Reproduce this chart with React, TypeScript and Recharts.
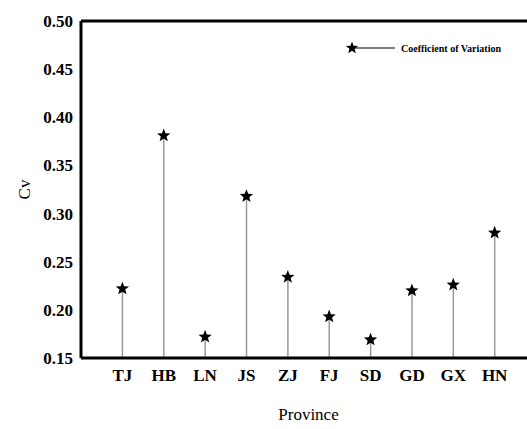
import {
  Bar,
  ComposedChart,
  Label,
  ReferenceLine,
  Scatter,
  XAxis,
  YAxis,
} from "recharts";

const provinces = ["TJ", "HB", "LN", "JS", "ZJ", "FJ", "SD", "GD", "GX", "HN"];
const cvValues = [0.222, 0.381, 0.172, 0.318, 0.234, 0.193, 0.169, 0.22, 0.226, 0.28];
const yTicks = [0.15, 0.2, 0.25, 0.3, 0.35, 0.4, 0.45, 0.5];

const chartData = provinces.map((name, i) => ({ idx: i + 1, name, cv: cvValues[i] }));

const serif = "'Liberation Serif', 'DejaVu Serif', serif";

function starPoints(cx: number, cy: number, outer: number, inner: number) {
  const pts: string[] = [];
  for (let k = 0; k < 10; k++) {
    const r = k % 2 === 0 ? outer : inner;
    const a = -Math.PI / 2 + (k * Math.PI) / 5;
    pts.push(`${cx + r * Math.cos(a)},${cy + r * Math.sin(a)}`);
  }
  return pts.join(" ");
}

const StarShape = (props: any) => {
  const { cx, cy } = props;
  if (cx == null || cy == null) return null;
  return <polygon points={starPoints(cx, cy, 7, 3)} fill="#000" />;
};

// legend drawn on top, no space reserved
const LegendBox = () => (
  <svg width={180} height={20} style={{ position: "absolute", top: 38, left: 345 }}>
    <line x1={7} y1={10} x2={50} y2={10} stroke="#000" strokeWidth={1} />
    <polygon points={starPoints(7, 10, 6.5, 2.7)} fill="#000" />
    <text x={56} y={13.5} fontFamily={serif} fontWeight="bold" fontSize={10} fill="#000">
      Coefficient of Variation
    </text>
  </svg>
);

export default function App() {
  return (
    <div
      style={{
        position: "fixed",
        top: 0,
        left: 0,
        width: 527,
        height: 429,
        overflow: "hidden",
        background: "#fff",
      }}
    >
      <ComposedChart
        width={536}
        height={429}
        data={chartData}
        margin={{ top: 21, right: 0, bottom: 0, left: 0 }}
      >
        <XAxis
          dataKey="idx"
          type="number"
          domain={[0, 11]}
          ticks={[1, 2, 3, 4, 5, 6, 7, 8, 9, 10]}
          tickFormatter={(v: number) => provinces[v - 1] ?? ""}
          tickLine={false}
          tickMargin={5}
          axisLine={{ stroke: "#000", strokeWidth: 3 }}
          tick={{ fill: "#000", fontFamily: serif, fontWeight: "bold", fontSize: 17 }}
          height={71}
          interval={0}
        >
          <Label
            value="Province"
            position="insideBottom"
            offset={9}
            style={{ fill: "#000", fontFamily: serif, fontSize: 17 }}
          />
        </XAxis>
        <YAxis
          type="number"
          domain={[0.15, 0.5]}
          ticks={yTicks}
          allowDataOverflow
          tickFormatter={(v: number) => v.toFixed(2)}
          tickLine={false}
          axisLine={{ stroke: "#000", strokeWidth: 3 }}
          tick={{ fill: "#000", fontFamily: serif, fontWeight: "bold", fontSize: 17 }}
          width={81}
        >
          <Label
            value="Cv"
            angle={-90}
            position="insideLeft"
            offset={24}
            style={{ fill: "#000", fontFamily: serif, fontSize: 17, textAnchor: "middle" }}
          />
        </YAxis>
        <ReferenceLine y={0.5} stroke="#000" strokeWidth={3} />
        <Bar dataKey="cv" barSize={1.5} fill="#999" isAnimationActive={false} />
        <Scatter dataKey="cv" shape={StarShape} isAnimationActive={false} />
      </ComposedChart>
      <LegendBox />
    </div>
  );
}
